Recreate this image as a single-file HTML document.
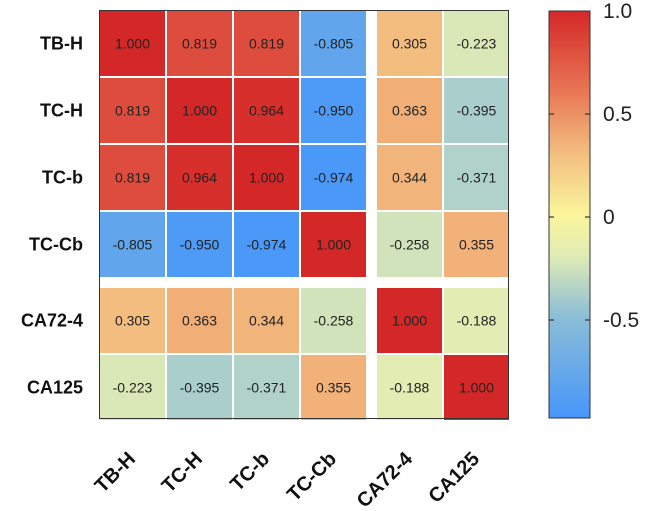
<!DOCTYPE html>
<html><head><meta charset="utf-8"><style>
html,body{margin:0;padding:0;background:#fff;}
svg{display:block;font-family:"Liberation Sans",Arial,sans-serif;}
</style></head><body>
<svg id="chart" width="650" height="511" viewBox="0 0 650 511">
<defs><linearGradient id="cbar" x1="0" y1="1" x2="0" y2="0">
<stop offset="0" stop-color="rgb(70,150,250)"/>
<stop offset="0.25" stop-color="rgb(140,190,215)"/>
<stop offset="0.4" stop-color="rgb(225,236,180)"/>
<stop offset="0.5" stop-color="rgb(250,245,155)"/>
<stop offset="0.65" stop-color="rgb(243,190,128)"/>
<stop offset="0.8" stop-color="rgb(232,120,85)"/>
<stop offset="1" stop-color="rgb(212,40,40)"/>
</linearGradient></defs>
<g id="cells"></g>
<g id="labels"></g>
<g id="cb"></g>
</svg>
<script>
const categories = ["TB-H","TC-H","TC-b","TC-Cb","CA72-4","CA125"];
const row0 = [1.000,0.819,0.819,-0.805,0.305,-0.223];
const row1 = [0.819,1.000,0.964,-0.950,0.363,-0.395];
const row2 = [0.819,0.964,1.000,-0.974,0.344,-0.371];
const row3 = [-0.805,-0.950,-0.974,1.000,-0.258,0.355];
const row4 = [0.305,0.363,0.344,-0.258,1.000,-0.188];
const row5 = [-0.223,-0.395,-0.371,0.355,-0.188,1.000];
const matrix = [row0,row1,row2,row3,row4,row5];
const cbTicks = [1.0,0.5,0,-0.5];
const cbTickLabels = ["1.0","0.5","0","-0.5"];

const NS="http://www.w3.org/2000/svg";
function mk(tag,attrs,parent){const e=document.createElementNS(NS,tag);for(const k in attrs)e.setAttribute(k,attrs[k]);parent.appendChild(e);return e;}
const stops=[[-1,[70,150,250]],[-0.5,[140,190,215]],[-0.2,[225,236,180]],[0,[250,245,155]],[0.3,[243,190,128]],[0.6,[232,120,85]],[1,[212,40,40]]];
function color(v){for(let i=0;i<stops.length-1;i++){const a=stops[i],b=stops[i+1];if(v<=b[0]){const t=(v-a[0])/(b[0]-a[0]);const c=a[1].map((x,j)=>Math.round(x+(b[1][j]-x)*t));return `rgb(${c})`;}}return "rgb(212,40,40)";}
const x0=100, y0=11, step=67, cw=65, grp=9;
function xPos(i){return x0+i*step+(i>=4?grp:0);}
function yPos(i){return y0+i*step+(i>=4?grp:0);}
const cells=document.getElementById('cells');
matrix.forEach((row,r)=>row.forEach((v,c)=>{
  const rc=mk('rect',{x:xPos(c),y:yPos(r),width:cw,height:cw,fill:color(v)},cells);
  
  
  const t=mk('text',{x:xPos(c)+cw/2,y:yPos(r)+cw/2+5,'text-anchor':'middle','font-size':14,fill:'#222'},cells);
  t.textContent=v.toFixed(3);
  
  
}));
const fr=mk('rect',{x:99.5,y:10.5,width:409,height:408,fill:'none',stroke:'#333','stroke-width':1},cells);


const lab=document.getElementById('labels');
categories.forEach((n,i)=>{
  const t=mk('text',{x:83,y:yPos(i)+cw/2+6,'text-anchor':'end','font-size':18,'font-weight':'bold',fill:'#111'},lab);
  t.textContent=n;
  
  
  const cx=xPos(i)+cw/2+4, cy=460;
  const u=mk('text',{x:cx,y:cy,'text-anchor':'end','font-size':20,'font-weight':'bold',fill:'#111',transform:`rotate(-45 ${cx} ${cy})`},lab);
  u.textContent=n;
  
  
});
const cb=document.getElementById('cb');
const cbx=549, cbw=41, cbTop=11, cbBot=418;
function cbY(v){return 217-v*206;}
const bar=mk('rect',{x:cbx,y:cbTop,width:cbw,height:cbBot-cbTop,fill:'url(#cbar)',stroke:'#333','stroke-width':1},cb);


cbTicks.forEach((v,i)=>{
  const y=Math.max(cbY(v),cbTop);
  if(v!==1){mk('line',{x1:cbx,x2:cbx+5,y1:y,y2:y,stroke:'#333','stroke-width':1.2},cb);
  mk('line',{x1:cbx+cbw-5,x2:cbx+cbw,y1:y,y2:y,stroke:'#333','stroke-width':1.2},cb);}
  const t=mk('text',{x:603,y:y+7,'font-size':21,fill:'#222'},cb);
  t.textContent=cbTickLabels[i];
  
  
});
</script>
</body></html>
